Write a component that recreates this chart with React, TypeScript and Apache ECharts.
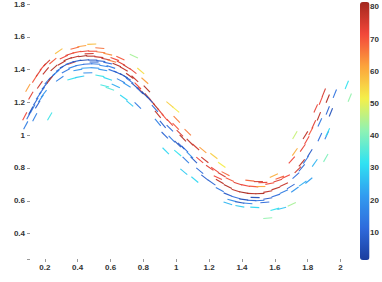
import React, { useEffect, useRef } from 'react';
import * as echarts from 'echarts';

// [x, y, direction (degrees), value]
const segments: number[][] = [
  [0.084, 1.060, 62, 15], [0.103, 1.121, 62, 12], [0.127, 1.163, 60, 14], [0.145, 1.205, 58, 10],
  [0.163, 1.241, 55, 13], [0.139, 1.109, 62, 16], [0.182, 1.271, 52, 12], [0.200, 1.301, 50, 8],
  [0.218, 1.332, 48, 14], [0.176, 1.223, 55, 18], [0.243, 1.356, 45, 10], [0.267, 1.380, 40, 15],
  [0.194, 1.253, 52, 20], [0.115, 1.151, 62, 6], [0.230, 1.115, 60, 33], [0.078, 1.115, 62, 72],
  [0.097, 1.289, 60, 62], [0.139, 1.344, 58, 70], [0.163, 1.380, 55, 74], [0.188, 1.416, 50, 72],
  [0.212, 1.440, 45, 76], [0.230, 1.338, 52, 79], [0.206, 1.392, 50, 78], [0.249, 1.452, 40, 70],
  [0.285, 1.512, 35, 58], [0.316, 1.476, 25, 72], [0.352, 1.494, 18, 74], [0.395, 1.506, 12, 70],
  [0.443, 1.512, 6, 73], [0.492, 1.512, 0, 71], [0.541, 1.506, -6, 66], [0.583, 1.494, -12, 64],
  [0.486, 1.555, 3, 58], [0.425, 1.543, 8, 62], [0.303, 1.440, 30, 79], [0.340, 1.464, 22, 80],
  [0.383, 1.476, 15, 78], [0.431, 1.482, 8, 81], [0.480, 1.482, 0, 79], [0.529, 1.476, -6, 77],
  [0.571, 1.464, -12, 78], [0.364, 1.440, 20, 76], [0.291, 1.404, 35, 12], [0.316, 1.422, 28, 6],
  [0.352, 1.440, 20, 10], [0.395, 1.452, 12, 8], [0.443, 1.458, 5, 4], [0.492, 1.458, 0, 7],
  [0.541, 1.452, -6, 9], [0.583, 1.440, -12, 11], [0.328, 1.392, 28, 14], [0.370, 1.416, 18, 16],
  [0.413, 1.428, 10, 15], [0.462, 1.434, 3, 12], [0.510, 1.434, -3, 14], [0.559, 1.422, -10, 17],
  [0.401, 1.398, 10, 20], [0.450, 1.410, 3, 22], [0.504, 1.410, -4, 19], [0.553, 1.398, -10, 20],
  [0.602, 1.416, -18, 14], [0.614, 1.392, -20, 12], [0.364, 1.344, 15, 32], [0.413, 1.356, 10, 28],
  [0.535, 1.362, -10, 33], [0.583, 1.344, -18, 30], [0.626, 1.464, -20, 72], [0.663, 1.440, -28, 74],
  [0.699, 1.416, -32, 76], [0.736, 1.392, -38, 73], [0.638, 1.428, -22, 80], [0.681, 1.404, -30, 78],
  [0.608, 1.452, -15, 66], [0.742, 1.482, -25, 44], [0.784, 1.392, -40, 54], [0.809, 1.332, -42, 62],
  [0.766, 1.301, -45, 72], [0.748, 1.344, -42, 77], [0.784, 1.271, -48, 75], [0.827, 1.235, -48, 78],
  [0.851, 1.205, -48, 72], [0.876, 1.175, -50, 80], [0.906, 1.139, -50, 74], [0.930, 1.109, -50, 71],
  [0.888, 1.127, -50, 78], [0.644, 1.380, -25, 8], [0.681, 1.362, -30, 5], [0.717, 1.332, -35, 12],
  [0.748, 1.301, -40, 6], [0.778, 1.271, -45, 10], [0.809, 1.247, -45, 4], [0.839, 1.217, -48, 8],
  [0.663, 1.332, -28, 16], [0.699, 1.307, -32, 20], [0.632, 1.301, -25, 24], [0.766, 1.181, -45, 14],
  [0.888, 1.078, -50, 16], [0.918, 1.066, -50, 9], [0.565, 1.301, -15, 34], [0.596, 1.283, -20, 36],
  [0.681, 1.229, -35, 30], [0.717, 1.193, -40, 28], [0.961, 1.187, -40, 56], [0.997, 1.157, -40, 52],
  [0.961, 1.078, -48, 73], [0.997, 1.054, -45, 70], [1.070, 1.018, -45, 66], [1.040, 0.982, -45, 80],
  [1.083, 0.958, -45, 78], [1.119, 0.928, -42, 76], [1.022, 1.012, -45, 75], [1.143, 0.849, -40, 72],
  [1.204, 0.801, -35, 74], [1.253, 0.741, -25, 72], [0.930, 1.000, -45, 10], [0.973, 0.976, -45, 14],
  [1.009, 0.946, -45, 6], [1.052, 0.916, -45, 12], [1.083, 0.879, -45, 18], [1.058, 0.849, -45, 15],
  [1.107, 0.849, -45, 8], [1.143, 0.783, -40, 12], [0.936, 0.904, -45, 30], [1.009, 0.891, -40, 32],
  [1.046, 0.777, -40, 28], [1.162, 0.910, -40, 62], [1.229, 0.873, -38, 56], [1.277, 0.819, -35, 52],
  [1.235, 0.789, -35, 72], [1.277, 0.759, -30, 75], [1.326, 0.729, -25, 70], [1.375, 0.705, -18, 74],
  [1.423, 0.693, -12, 72], [1.472, 0.687, -5, 70], [1.527, 0.711, 3, 73], [1.569, 0.705, 10, 71],
  [1.618, 0.723, 18, 74], [1.667, 0.747, 25, 72], [1.265, 0.717, -30, 79], [1.314, 0.687, -25, 80],
  [1.363, 0.662, -18, 78], [1.411, 0.650, -10, 81], [1.460, 0.644, -3, 79], [1.509, 0.644, 3, 80],
  [1.557, 0.656, 10, 78], [1.606, 0.675, 18, 79], [1.655, 0.699, 25, 77], [1.216, 0.711, -35, 10],
  [1.265, 0.668, -28, 14], [1.314, 0.638, -22, 8], [1.363, 0.620, -15, 12], [1.411, 0.608, -8, 5],
  [1.460, 0.602, -2, 10], [1.509, 0.602, 3, 13], [1.557, 0.614, 10, 8], [1.606, 0.632, 18, 12],
  [1.655, 0.656, 25, 15], [1.697, 0.687, 32, 10], [1.338, 0.602, -15, 18], [1.436, 0.584, -5, 16],
  [1.722, 0.668, 35, 20], [1.314, 0.584, -18, 25], [1.387, 0.566, -10, 28], [1.478, 0.560, -3, 30],
  [1.600, 0.548, 15, 32], [1.642, 0.554, 15, 27], [1.557, 0.494, 5, 42], [1.703, 0.578, 25, 44],
  [1.515, 0.687, 0, 61], [1.594, 0.753, 25, 60], [1.722, 0.898, 55, 60], [1.722, 1.000, 60, 47],
  [1.770, 0.922, 55, 73], [1.795, 0.970, 60, 72], [1.819, 1.024, 62, 70], [1.837, 1.066, 65, 74],
  [1.764, 0.831, 50, 79], [1.740, 0.789, 45, 76], [1.880, 1.211, 68, 72], [1.922, 1.223, 68, 80],
  [1.868, 1.115, 68, 79], [1.849, 1.163, 66, 73], [1.764, 0.801, 50, 10], [1.789, 0.849, 55, 14],
  [1.813, 0.891, 58, 8], [1.874, 0.988, 65, 12], [1.874, 1.078, 65, 14], [1.916, 1.000, 65, 16],
  [1.922, 1.151, 68, 10], [1.941, 1.139, 68, 6], [1.965, 1.253, 68, 13], [1.843, 0.831, 55, 25],
  [1.922, 1.018, 65, 30], [2.038, 1.307, 68, 32], [1.910, 0.861, 60, 40], [2.056, 1.229, 68, 42],
  [1.770, 0.705, 35, 24], [1.807, 0.723, 40, 22],
  [0.383, 1.531, 14, 68], [0.535, 1.531, -5, 67], [0.462, 1.380, 2, 18], [0.291, 1.344, 35, 16],
  [0.157, 1.187, 58, 9], [0.115, 1.241, 60, 74], [0.170, 1.307, 55, 77], [0.717, 1.362, -36, 79],
  [0.870, 1.163, -48, 12], [0.961, 1.042, -45, 11], [1.174, 0.849, -38, 77], [1.174, 0.741, -38, 9],
  [1.113, 0.729, -40, 30], [1.448, 0.723, -6, 68], [1.387, 0.590, -10, 7], [1.539, 0.590, 5, 11],
  [1.703, 0.849, 48, 72], [1.728, 0.753, 42, 12], [1.898, 1.259, 68, 75], [0.256, 1.410, 42, 80],
  [0.470, 1.497, 2, 76], [0.660, 1.470, -25, 70], [0.821, 1.283, -46, 80], [1.003, 1.096, -46, 66],
  [1.300, 0.765, -28, 68], [1.500, 0.717, 0, 76], [1.630, 0.741, 20, 69], [1.786, 1.000, 58, 78],
  [0.500, 1.446, 0, 10], [0.700, 1.350, -33, 9], [1.030, 0.934, -45, 9], [1.480, 0.620, -2, 6],
];

const xTicks = [0.2, 0.4, 0.6, 0.8, 1, 1.2, 1.4, 1.6, 1.8, 2];
const yTicks = [0.245, 0.4, 0.6, 0.8, 1, 1.2, 1.4, 1.6, 1.8];
const yLabels = [0.4, 0.6, 0.8, 1, 1.2, 1.4, 1.6, 1.8];
const colorbarTicks = [10, 20, 30, 40, 50, 60, 70, 80];
const valueMin = 1.4;
const valueMax = 81.5;
const palette = ['#1b3d9e', '#2f6bdc', '#319cf0', '#2fe2f2', '#8ef2b4', '#f4f04a', '#fca43c', '#f3473a', '#a3271e'];

export default function App() {
  const ref = useRef<HTMLDivElement>(null);
  useEffect(() => {
    document.body.style.margin = '0';
    const chart = echarts.init(ref.current!, null, { renderer: 'svg' });
    const SEG = 9;
    const labelStyle = { fontSize: 8, color: '#333', fontWeight: 'bold', fontFamily: 'Liberation Sans' };
    chart.setOption({
      animation: false,
      grid: [
        { left: 30, top: 1, width: 327, height: 258 },
        { left: 360, top: 2, width: 9.5, height: 258 },
      ],
      xAxis: [
        {
          type: 'value', gridIndex: 0, min: 0.11, max: 2.1,
          axisLine: { show: false }, splitLine: { show: false },
          axisTick: { show: true, length: 3, customValues: xTicks, lineStyle: { color: '#999' } },
          axisLabel: { ...labelStyle, margin: 4, customValues: xTicks },
        },
        { type: 'value', gridIndex: 1, min: 0, max: 1, show: false },
      ],
      yAxis: [
        {
          type: 'value', gridIndex: 0, min: 0.245, max: 1.8,
          axisLine: { show: false }, splitLine: { show: false },
          axisTick: { show: true, length: 3, customValues: yTicks, lineStyle: { color: '#999' } },
          axisLabel: { ...labelStyle, margin: 5, customValues: yLabels },
        },
        {
          type: 'value', gridIndex: 1, position: 'right', min: valueMin, max: valueMax,
          axisLine: { show: false }, splitLine: { show: false },
          axisTick: { show: true, length: 2, customValues: colorbarTicks, lineStyle: { color: '#999' } },
          axisLabel: { ...labelStyle, margin: 3, customValues: colorbarTicks },
        },
      ],
      visualMap: {
        type: 'continuous', min: valueMin, max: valueMax, dimension: 3, seriesIndex: 0,
        orient: 'vertical', left: 360, top: 2, itemWidth: 9.5, itemHeight: 258, padding: 0,
        calculable: false, hoverLink: false, text: null, showLabel: false,
        inRange: { color: palette },
      },
      series: [
        {
          type: 'custom', xAxisIndex: 0, yAxisIndex: 0,
          encode: { x: 0, y: 1 },
          data: segments,
          renderItem: (params: any, api: any) => {
            const c = api.coord([api.value(0), api.value(1)]);
            const a = (api.value(2) * Math.PI) / 180;
            const dx = (Math.cos(a) * SEG) / 2;
            const dy = (Math.sin(a) * SEG) / 2;
            return {
              type: 'line',
              shape: { x1: c[0] - dx, y1: c[1] + dy, x2: c[0] + dx, y2: c[1] - dy },
              style: { stroke: api.visual('color'), lineWidth: 1.1, opacity: 0.95 },
            };
          },
        },
      ],
    });
    return () => chart.dispose();
  }, []);
  return <div ref={ref} style={{ width: 382, height: 282 }} />;
}
